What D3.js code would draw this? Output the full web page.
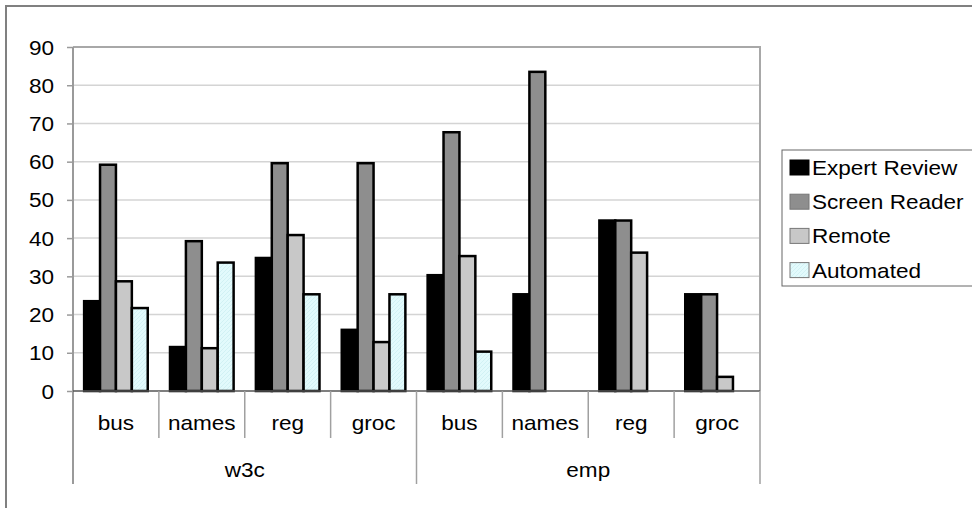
<!DOCTYPE html>
<html>
<head>
<meta charset="utf-8">
<script src="https://cdn.jsdelivr.net/npm/d3@7"></script>
<style>
  html, body { margin: 0; padding: 0; background: #fff; }
  svg { display: block; }
  text { font-family: "Liberation Sans", Arial, sans-serif; fill: #000; }
</style>
</head>
<body>
<svg id="chart" width="972" height="508"></svg>
<script>
// Sites grouped by test suite
const groups = ["w3c", "emp"];
const sites = ["bus", "names", "reg", "groc"];
const seriesNames = ["Expert Review", "Screen Reader", "Remote", "Automated"];

// One value per site (w3c bus..groc, then emp bus..groc)
const expertReview = [23.5, 11.5, 34.8, 16.0, 30.3, 25.3, 44.6, 25.3];
const screenReader = [59.2, 39.2, 59.6, 59.6, 67.7, 83.5, 44.6, 25.3];
const remote       = [28.7, 11.2, 40.8, 12.8, 35.3, 0, 36.2, 3.7];
const automated    = [21.7, 33.6, 25.3, 25.3, 10.3, 0, 0, 0];

const yTicks = [0, 10, 20, 30, 40, 50, 60, 70, 80, 90];

const seriesValues = [expertReview, screenReader, remote, automated];
const fills = ["#000000", "#8e8e8e", "#c8c8c8", "url(#hatch)"];

const svg = d3.select("#chart");
const FS = 20.5, SX = 1.1; // text size and horizontal stretch

function label(g, x, y, str, anchor) {
  return g.append("text")
    .attr("transform", `translate(${x},${y}) scale(${SX},1)`)
    .attr("text-anchor", anchor || "start")
    .style("font-size", FS + "px")
    .text(str);
}

// Light cyan fill with faint diagonal hatching
const defs = svg.append("defs");
const pat = defs.append("pattern").attr("id", "hatch")
  .attr("patternUnits", "userSpaceOnUse").attr("width", 4).attr("height", 4);
pat.append("rect").attr("width", 4).attr("height", 4).attr("fill", "#e2fafc");
pat.append("path").attr("d", "M-1,1 l2,-2 M0,4 l4,-4 M3,5 l2,-2")
  .attr("stroke", "#cdeff3").attr("stroke-width", 0.8);

// Outer chart frame (top and left edges)
svg.append("path").attr("d", "M6,508 V6 H972")
  .attr("fill", "none").attr("stroke", "#808080").attr("stroke-width", 2);

const plotLeft = 73, plotRight = 760, plotTop = 47, plotBottom = 391;

const y = d3.scaleLinear().domain([0, 90]).range([plotBottom, plotTop]);

const cats = d3.range(groups.length * sites.length);
const x0 = d3.scaleBand().domain(cats).range([plotLeft, plotRight]).padding(0);
const x1 = d3.scaleBand().domain(d3.range(seriesNames.length))
  .range([0, x0.bandwidth()]).paddingInner(0).paddingOuter(0.7);

// Gridlines
svg.append("g").selectAll("line").data(yTicks.filter(t => t > 0 && t < 90)).join("line")
  .attr("x1", plotLeft).attr("x2", plotRight)
  .attr("y1", d => y(d)).attr("y2", d => y(d))
  .attr("stroke", "#d4d4d4").attr("stroke-width", 1.5);

// Plot area top and right borders
svg.append("path").attr("d", `M${plotLeft},${y(90)} H${plotRight} V${plotBottom}`)
  .attr("fill", "none").attr("stroke", "#a8a8a8").attr("stroke-width", 2);

// Y axis
const yAxis = svg.append("g").attr("transform", `translate(${plotLeft},0)`)
  .call(d3.axisLeft(y).tickValues(yTicks).tickSize(6).tickFormat(""));
yAxis.select(".domain").remove();
yAxis.selectAll(".tick line").attr("stroke", "#9a9a9a").attr("stroke-width", 1.5);
svg.append("line").attr("x1", plotLeft).attr("x2", plotLeft)
  .attr("y1", plotTop).attr("y2", 484)
  .attr("stroke", "#9a9a9a").attr("stroke-width", 2);
const yl = svg.append("g");
yTicks.forEach(t => label(yl, 54, y(t) + 7.5, String(t), "end"));

// Bars
const bars = svg.append("g");
cats.forEach(c => {
  seriesValues.forEach((vals, s) => {
    const v = vals[c];
    if (!v) return;
    bars.append("rect")
      .attr("x", x0(c) + x1(s))
      .attr("width", x1.bandwidth())
      .attr("y", y(v))
      .attr("height", y(0) - y(v))
      .attr("fill", fills[s])
      .attr("stroke", "#000").attr("stroke-width", 2.5);
  });
});

// Zero line
svg.append("line").attr("x1", plotLeft).attr("x2", plotRight)
  .attr("y1", y(0)).attr("y2", y(0))
  .attr("stroke", "#555").attr("stroke-width", 1.5);

// Category axis: site separators, group separators, labels
const sep = svg.append("g").attr("stroke", "#a0a0a0").attr("stroke-width", 1.5);
d3.range(1, cats.length + 1).forEach(i => {
  const xx = plotLeft + i * x0.step();
  const isGroup = i % sites.length === 0;
  sep.append("line").attr("x1", xx).attr("x2", xx)
    .attr("y1", plotBottom).attr("y2", isGroup ? 484 : 438);
});
const cl = svg.append("g");
cats.forEach(c => label(cl, x0(c) + x0.bandwidth() / 2, 430, sites[c % sites.length], "middle"));
groups.forEach((g, i) => {
  const gx = plotLeft + (i * sites.length + sites.length / 2) * x0.step();
  label(cl, gx, 477, g, "middle");
});

// Legend
const lg = svg.append("g");
lg.append("rect").attr("x", 782).attr("y", 150).attr("width", 220).attr("height", 136)
  .attr("fill", "#fff").attr("stroke", "#666").attr("stroke-width", 1);
seriesNames.forEach((n, i) => {
  const by = 175 + i * 34.2;
  lg.append("rect").attr("x", 790).attr("y", by - 15).attr("width", 19).attr("height", 15)
    .attr("fill", fills[i]).attr("stroke", i === 0 ? "#000" : "#777").attr("stroke-width", 1);
  label(lg, 812, by, n, "start");
});
</script>
</body>
</html>
